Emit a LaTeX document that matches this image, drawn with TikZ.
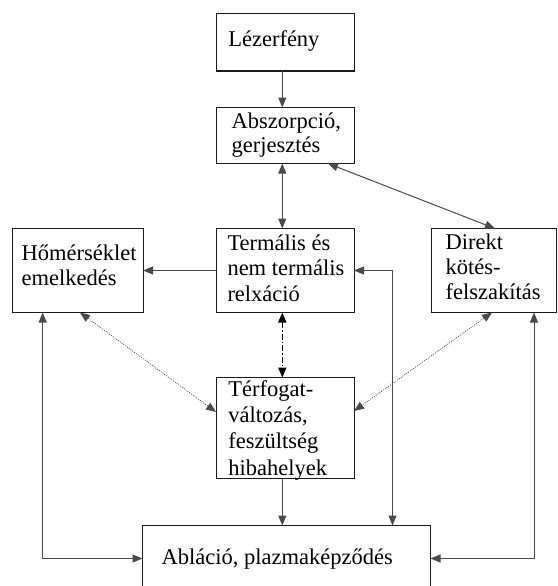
\documentclass[tikz,border=0pt]{standalone}
\usepackage{fontspec}
\setmainfont{Liberation Serif}
\usetikzlibrary{arrows.meta}
\definecolor{linegray}{HTML}{4A4A4A}
\definecolor{boxline}{HTML}{1A1A1A}
\tikzset{
  box/.style={draw=boxline, line width=1pt, inner sep=0pt, outer sep=0pt},
  txt/.style={inner sep=0pt, outer sep=0pt, align=left, anchor=base west},
  conn/.style={draw=linegray, line width=1pt, arrows={-Triangle[length=10pt,width=8pt]}},
  conn2/.style={draw=linegray, line width=1pt, arrows={Triangle[length=10pt,width=8pt]-Triangle[length=10pt,width=8pt]}},
  dotconn/.style={draw=linegray, line width=0.7pt, dash pattern=on 1pt off 1.2pt, arrows={Triangle[length=10pt,width=8pt]-Triangle[length=10pt,width=8pt]}},
  dashdotconn/.style={draw=black, line width=1.6pt, dash pattern=on 6pt off 2pt on 1.5pt off 2pt, arrows={Triangle[length=10pt,width=8pt]-Triangle[length=10pt,width=8pt]}},
}
\begin{document}
\begin{tikzpicture}[x=1pt,y=-1pt]
\useasboundingbox (0,0) rectangle (557,586);
\clip (0,0) rectangle (557,586);
% boxes
\node[box, minimum width=138pt, minimum height=57pt] (lez) at (285,42.5) {};
\node[box, minimum width=138pt, minimum height=56pt] (abs) at (285,135.5) {};
\node[box, minimum width=138pt, minimum height=84pt] (ter) at (285,270.5) {};
\node[box, minimum width=131pt, minimum height=84pt] (hom) at (77.5,270.5) {};
\node[box, minimum width=125pt, minimum height=84pt] (dir) at (493.5,270.5) {};
\node[box, minimum width=138pt, minimum height=101pt] (terf) at (285,428) {};
\node[box, minimum width=288pt, minimum height=90pt] (abl) at (286.5,570.5) {};
% texts (anchor = baseline of the last line)
\node[txt, font=\fontsize{22.5}{24.5}\selectfont] (tlez) at (228.3,46.7) {Lézerfény};
\node[txt, font=\fontsize{22.5}{24.4}\selectfont] (tabs) at (231.7,152.7) {Abszorpció,\\gerjesztés};
\node[txt, font=\fontsize{22.5}{25.5}\selectfont] (tter) at (227.5,301) {Termális és\\nem termális\\relxáció};
\node[txt, font=\fontsize{22.5}{25}\selectfont] (thom) at (21.7,285) {Hőmérséklet\\emelkedés};
\node[txt, font=\fontsize{22.5}{25.3}\selectfont] (tdir) at (445.7,299.9) {Direkt\\kötés-\\felszakítás};
\node[txt, font=\fontsize{22.5}{26.1}\selectfont] (tterf) at (228.3,475) {Térfogat-\\változás,\\feszültség\\hibahelyek};
\node[txt, font=\fontsize{22.5}{25}\selectfont] (tabl) at (161.7,564) {Abláció, plazmaképződés};
% corner coordinates
\coordinate (c1) at (392.5,270.5);
\coordinate (c2) at (42.7,558.5);
\coordinate (c3) at (534,558.5);
% connectors
\draw[conn] (lez.south -| 282.3,0) -- (abs.north -| 282.3,0);
\draw[conn2] (abs.south -| 282.3,0) -- (ter.north -| 282.3,0);
\draw[conn2] (abs.south -| 328,0) -- (dir.north -| 495,0);
\draw[conn] (ter.west) -- (hom.east);
\draw[conn2] (ter.east) -- (c1) -- (abl.north -| c1);
\draw[dashdotconn] (ter.south -| 282.3,0) -- (terf.north -| 282.3,0);
\draw[conn] (terf.south -| 282.3,0) -- (abl.north -| 282.3,0);
\draw[conn2] (hom.south -| c2) -- (c2) -- (abl.west |- c2);
\draw[conn2] (dir.south -| c3) -- (c3) -- (abl.east |- c3);
\draw[dotconn] (hom.south -| 80,0) -- (terf.west |- 0,412);
\draw[dotconn] (dir.south -| 492,0) -- (terf.east |- 0,411);
\end{tikzpicture}
\end{document}
